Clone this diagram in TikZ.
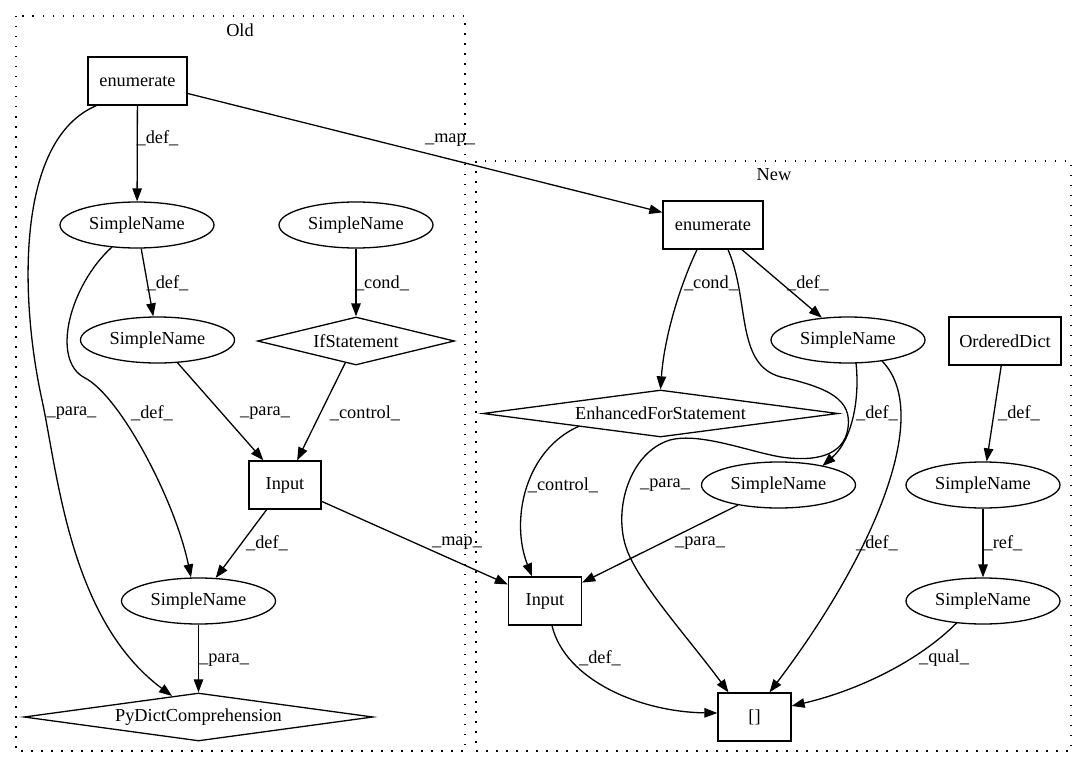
\documentclass[tikz,border=0pt]{standalone}
\usepackage{fontspec}
\setmainfont{Liberation Serif}
\usetikzlibrary{shapes.geometric,arrows.meta,calc}
\begin{document}
\begin{tikzpicture}[x=1pt,y=-1pt,
  font=\fontsize{18.3}{22}\selectfont,
  box/.style={draw, line width=1.3pt, rectangle, minimum height=48pt, inner sep=0pt},
  ell/.style={draw, line width=1.3pt, ellipse, minimum width=154pt, minimum height=46pt, inner sep=0pt},
  dia/.style={draw, line width=1.3pt, diamond, inner sep=0pt},
  lbl/.style={inner sep=0pt},
  edge/.style={line width=1.3pt, -{Triangle[length=13pt,width=9.5pt]}},
  clust/.style={line width=1.3pt, dash pattern=on 1.5pt off 8.5pt}]
\fill[white] (0,0) rectangle (1088,768);
\useasboundingbox (0,0) rectangle (1088,768);

% clusters
\draw[clust] (16,16) rectangle (465,751);
\draw[clust] (476,161) rectangle (1071,751);
\node[lbl] (oldlbl) at (240,30) {Old};
\node[lbl] (newlbl) at (774,175) {New};

% Old nodes
\node[box, minimum width=99pt] (e1) at (137.5,81) {enumerate};
\node[ell] (sa) at (137,225) {SimpleName};
\node[ell] (sb) at (356,225) {SimpleName};
\node[ell] (sc) at (157.5,340) {SimpleName};
\node[dia, aspect=4, minimum width=197pt, minimum height=48pt] (ifs) at (356,341) {IfStatement};
\node[box, minimum width=72pt] (i1) at (285,485) {Input};
\node[ell] (sd) at (198.5,601) {SimpleName};
\node[dia, aspect=7, minimum width=349pt, minimum height=48pt] (pdc) at (198.5,717) {PyDictComprehension};

% New nodes
\node[box, minimum width=100pt] (e2) at (713,225) {enumerate};
\node[ell] (se) at (848,340) {SimpleName};
\node[box, minimum width=112pt] (od) at (1005,341) {OrderedDict};
\node[dia, aspect=7, minimum width=355pt, minimum height=47pt] (efs) at (660.5,413.5) {EnhancedForStatement};
\node[ell] (sf) at (778.5,485) {SimpleName};
\node[ell] (sg) at (983,485) {SimpleName};
\node[ell] (sh) at (983,601) {SimpleName};
\node[box, minimum width=73pt] (i2) at (545,601) {Input};
\node[box, minimum width=73pt] (br) at (754.5,717) {[]};

% Old edges
\draw[edge] (e1) -- (sa);
\draw[edge] ($(e1.south west)+(9,0)$) .. controls (15,140) and (20,300) .. (42,400)
  .. controls (58,475) and (70,620) .. ($(pdc.north)+(-26.5,3.6)$);
\draw[edge] (e1) -- (e2);
\draw[edge] (sa) -- (sc);
\draw[edge] ($(sa.center)+(-25,22)$) .. controls (70,285) and (50,360) .. (85,378)
  .. controls (120,396) and (175,500) .. ($(sd.north)+(-7.5,0)$);
\draw[edge] (sb) -- (ifs);
\draw[edge] (sc) -- (i1);
\draw[edge] (ifs) -- (i1);
\draw[edge] (i1) -- (sd);
\draw[edge] (i1) -- (i2);
\draw[edge] (sd) -- (pdc);

% New edges
\draw[edge] ($(e2.south)+(-16,0)$) .. controls (678,290) and (664,340) .. (efs.north);
\draw[edge] (e2) -- (se);
\draw[edge] ($(e2.south)+(15,0)$) .. controls (750,300) and (735,365) .. (781,377)
  .. controls (830,388) and (852,400) .. (848,428)
  .. controls (844,456) and (815,462) .. (781,457)
  .. controls (750,452) and (700,432) .. (670,440)
  .. controls (630,452) and (612,510) .. (627,550)
  .. controls (640,585) and (690,640) .. ($(br.north)+(-26,0)$);
\draw[edge] ($(se.center)+(8,23)$) .. controls (860,400) and (852,440) .. ($(sf.center)+(44,-19)$);
\draw[edge] ($(se.center)+(34,21)$) .. controls (935,415) and (870,560) .. ($(br.north)+(15,0)$);
\draw[edge] ($(efs.center)+(-81.5,12.7)$) .. controls (525,450) and (510,520) .. ($(i2.north)+(-13,0)$);
\draw[edge] (sf) -- (i2);
\draw[edge] (od) -- (sg);
\draw[edge] (sg) -- (sh);
\draw[edge] ($(sh.center)+(-26,21.6)$) .. controls (920,660) and (860,690) .. ($(br.east)+(0,-11)$);
\draw[edge] ($(i2.south)+(7,0)$) .. controls (565,680) and (640,712) .. ($(br.west)+(0,-4)$);

% edge labels, Old
\node[lbl] (l1) at (157.5,138) {\_def\_};
\node[lbl] (l2) at (450,140) {\_map\_};
\node[lbl] (l3) at (71.5,413) {\_para\_};
\node[lbl] (l4) at (167.5,283) {\_def\_};
\node[lbl] (l5) at (152,413) {\_def\_};
\node[lbl] (l6) at (382,283) {\_cond\_};
\node[lbl] (l7) at (265,413) {\_para\_};
\node[lbl] (l8) at (365,413) {\_control\_};
\node[lbl] (l9) at (267,543) {\_def\_};
\node[lbl] (l10) at (457,543) {\_map\_};
\node[lbl] (l11) at (224,660) {\_para\_};
% edge labels, New
\node[lbl] (l12) at (711,283) {\_cond\_};
\node[lbl] (l13) at (808,283) {\_def\_};
\node[lbl] (l14) at (877,413) {\_def\_};
\node[lbl] (l15) at (1019,413) {\_def\_};
\node[lbl] (l16) at (563,485) {\_control\_};
\node[lbl] (l17) at (665,485) {\_para\_};
\node[lbl] (l18) at (700,543) {\_para\_};
\node[lbl] (l19) at (877,543) {\_def\_};
\node[lbl] (l20) at (1003,543) {\_ref\_};
\node[lbl] (l21) at (600,658) {\_def\_};
\node[lbl] (l22) at (944,658) {\_qual\_};
\end{tikzpicture}
\end{document}
